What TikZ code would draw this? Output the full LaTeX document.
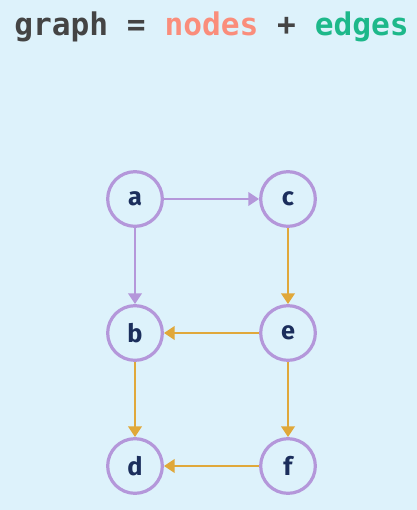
\documentclass[tikz,border=0pt]{standalone}
\usepackage{fontspec}
\setmainfont{Fira Sans}
\newfontfamily\titlefont{DejaVu Sans Mono}
\usetikzlibrary{arrows.meta}
\definecolor{bg}{HTML}{DDF2FB}
\definecolor{titlegray}{HTML}{444444}
\definecolor{salmon}{HTML}{FA8D7B}
\definecolor{teal}{HTML}{1DB88A}
\definecolor{purp}{HTML}{B497DA}
\definecolor{gold}{HTML}{E0A83A}
\definecolor{navy}{HTML}{1B2E5C}
\begin{document}
\begin{tikzpicture}[x=0.75pt,y=-0.75pt,
  vert/.style={circle,draw=purp,line width=2.4pt,minimum size=41pt,inner sep=0pt,
    font=\fontsize{19}{19}\selectfont\bfseries,text=navy},
  pedge/.style={draw=purp,line width=2.2pt,-{Triangle[length=8pt,width=10pt]}},
  oedge/.style={draw=gold,line width=2.2pt,-{Triangle[length=8pt,width=10pt]}}]
\fill[bg] (0,0) rectangle (417,510);
\useasboundingbox (0,0) rectangle (417,510);
\node[anchor=base west,inner sep=0pt,font=\titlefont\bfseries\fontsize{23.4}{23.4}\selectfont] (title) at (14,36)
  {\textcolor{titlegray}{graph\ =\ }\textcolor{salmon}{nodes}\textcolor{titlegray}{\ +\ }\textcolor{teal}{edges}};
\node[vert] (a) at (135,199) {a};
\node[vert] (c) at (288,199) {c};
\node[vert] (b) at (135,333) {b};
\node[vert] (e) at (288,333) {e};
\node[vert] (d) at (135,466) {d};
\node[vert] (f) at (288,466) {f};
\draw[pedge] (a) -- (c);
\draw[pedge] (a) -- (b);
\draw[oedge] (c) -- (e);
\draw[oedge] (e) -- (b);
\draw[oedge] (b) -- (d);
\draw[oedge] (e) -- (f);
\draw[oedge] (f) -- (d);
\end{tikzpicture}
\end{document}
